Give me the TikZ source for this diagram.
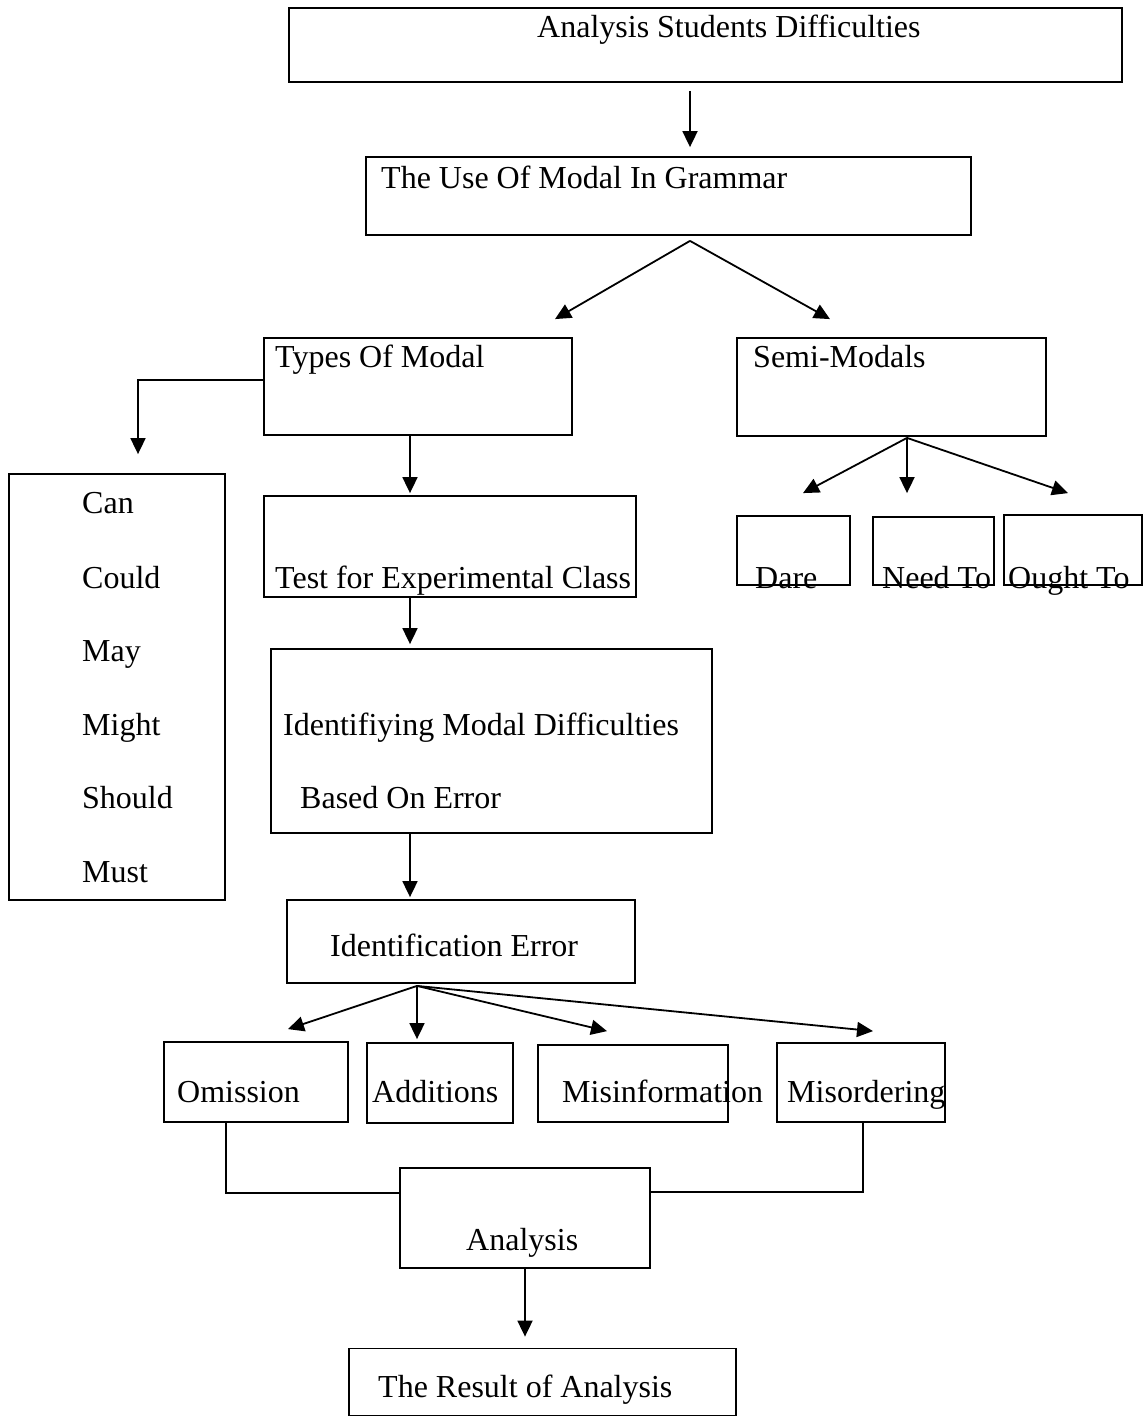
\documentclass[tikz,border=0pt]{standalone}
\usepackage{fontspec}
\setmainfont{Liberation Serif}
\usetikzlibrary{arrows.meta,calc}
\tikzset{
  box/.style={draw, line width=1.8pt, inner sep=0pt, rectangle},
  txt/.style={inner sep=0pt, anchor=base west, font=\fontsize{32}{37}\selectfont},
  arr/.style={line width=1.8pt, -{Triangle[length=16pt,width=15pt]}},
  ln/.style={line width=1.8pt}
}
\begin{document}
\begin{tikzpicture}[x=1pt,y=-1pt]
\useasboundingbox (0,0) rectangle (1144,1418);
% boxes
\node[box, minimum width=833pt, minimum height=74pt] (b1) at (705.5,45) {};
\node[box, minimum width=605pt, minimum height=78pt] (b2) at (668.5,196) {};
\node[box, minimum width=308pt, minimum height=97pt] (types) at (418,386.5) {};
\node[box, minimum width=309pt, minimum height=98pt] (semi) at (891.5,387) {};
\node[box, minimum width=216pt, minimum height=426pt] (list) at (117,687) {};
\node[box, minimum width=372pt, minimum height=101pt] (test) at (450,546.5) {};
\node[box, minimum width=441pt, minimum height=184pt] (ident) at (491.5,741) {};
\node[box, minimum width=348pt, minimum height=83pt] (iderr) at (461,941.5) {};
\node[box, minimum width=113pt, minimum height=69pt] (dare) at (793.5,550.5) {};
\node[box, minimum width=121pt, minimum height=68pt] (need) at (933.5,551) {};
\node[box, minimum width=138pt, minimum height=70pt] (ought) at (1073,550) {};
\node[box, minimum width=184pt, minimum height=80pt] (omis) at (256,1082) {};
\node[box, minimum width=146pt, minimum height=80pt] (addi) at (440,1083) {};
\node[box, minimum width=190pt, minimum height=77pt] (misi) at (633,1083.5) {};
\node[box, minimum width=168pt, minimum height=79pt] (miso) at (861,1082.5) {};
\node[box, minimum width=250pt, minimum height=100pt] (anal) at (525,1218) {};
\node[box, minimum width=387pt, minimum height=67pt] (res) at (542.5,1382) {};
% texts
\node[txt] (t1) at (537,38) {Analysis Students Difficulties};
\node[txt] (t2) at (381,188) {The Use Of Modal In Grammar};
\node[txt] (t3) at (275,367) {Types Of Modal};
\node[txt] (t4) at (753,367) {Semi-Modals};
\node[txt] (m1) at (82,513) {Can};
\node[txt] (m2) at (82,588) {Could};
\node[txt] (m3) at (82,661) {May};
\node[txt] (m4) at (82,735) {Might};
\node[txt] (m5) at (82,808) {Should};
\node[txt] (m6) at (82,882) {Must};
\node[txt] (t5) at (275,588) {Test for Experimental Class};
\node[txt] (t6) at (283,735) {Identifiying Modal Difficulties};
\node[txt] (t7) at (300,808) {Based On Error};
\node[txt] (t8) at (330,956) {Identification Error};
\node[txt] (s1) at (755,588) {Dare};
\node[txt] (s2) at (882,588) {Need To};
\node[txt] (s3) at (1008,588) {Ought To};
\node[txt] (e1) at (177,1102) {Omission};
\node[txt] (e2) at (372,1102) {Additions};
\node[txt] (e3) at (562,1102) {Misinformation};
\node[txt] (e4) at (787,1102) {Misordering};
\node[txt] (t9) at (466,1250) {Analysis};
\node[txt] (t10) at (378,1397) {The Result of Analysis};
% connectors
\draw[arr] ([xshift=-15.5pt,yshift=-8pt]b1.south) -- ([xshift=21.5pt,yshift=9pt]b2.north);
\coordinate (b2o) at ([xshift=21.5pt,yshift=-5pt]b2.south);
\draw[arr] (b2o) -- ([xshift=137pt,yshift=18pt]types.north);
\draw[arr] (b2o) -- ([xshift=-61.5pt,yshift=18pt]semi.north);
\draw[arr] ([yshift=6.5pt]types.west) -| ([xshift=21pt,yshift=19pt]list.north);
\draw[arr] ([xshift=-8pt]types.south) -- ([xshift=-40pt,yshift=2pt]test.north);
\draw[arr] ([xshift=-40pt]test.south) -- ([xshift=-81.5pt,yshift=4pt]ident.north);
\draw[arr] ([xshift=-81.5pt]ident.south) -- ([xshift=-51pt,yshift=2pt]iderr.north);
\coordinate (so) at ([xshift=15.5pt,yshift=-1pt]semi.south);
\draw[arr] (so) -- ([xshift=9.5pt,yshift=22pt]dare.north);
\draw[arr] (so) -- ([xshift=-26.5pt,yshift=23pt]need.north);
\draw[arr] (so) -- ([xshift=-5pt,yshift=21pt]ought.north);
\coordinate (eo) at ([xshift=-44pt,yshift=-2pt]iderr.south);
\draw[arr] (eo) -- ([xshift=32pt,yshift=12pt]omis.north);
\draw[arr] (eo) -- ([xshift=-23pt,yshift=3pt]addi.north);
\draw[arr] (eo) -- ([xshift=-26pt,yshift=13pt]misi.north);
\draw[arr] (eo) -- ([xshift=12pt,yshift=11pt]miso.north);
\draw[ln] ([xshift=-30pt]omis.south) |- ([yshift=25pt]anal.west);
\draw[ln] ([xshift=2pt]miso.south) |- ([yshift=26pt]anal.east);
\draw[arr] (anal.south) -- ([xshift=-17.5pt,yshift=11pt]res.north);
\end{tikzpicture}
\end{document}
